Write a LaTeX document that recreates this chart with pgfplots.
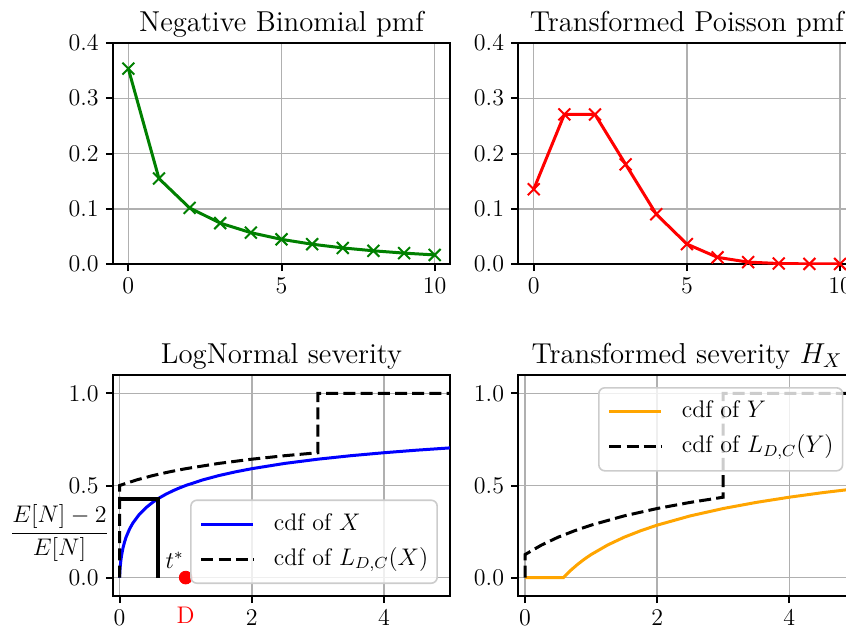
\documentclass[border=0pt]{standalone}
\usepackage{pgfplots}
\pgfplotsset{compat=1.18}
\definecolor{mplgreen}{rgb}{0,0.5,0}
\definecolor{mplorange}{rgb}{1,0.647,0}
\definecolor{gridgray}{rgb}{0.69,0.69,0.69}
\definecolor{legframe}{rgb}{0.8,0.8,0.8}
\pgfplotsset{
  myaxis/.style={
    scale only axis, width=168.5pt, height=110.5pt,
    axis line style={line width=1pt},
    grid=major, major grid style={gridgray, line width=0.75pt},
    tick align=outside, major tick length=3.5pt,
    every tick/.style={black, line width=1pt},
    xtick pos=left, ytick pos=left,
    tick label style={font=\fontsize{12}{14}\selectfont},
    xticklabel style={inner sep=0pt}, yticklabel style={inner sep=0pt},
    xticklabel shift=3.5pt, yticklabel shift=3.5pt,
    every axis title/.style={font=\fontsize{14.4}{17}\selectfont, at={(0.5,1)}, anchor=base, yshift=6pt},
    legend cell align=left,
    legend image code/.code={\draw[##1] (0pt,0pt) -- (26pt,0pt);},
    legend style={draw=legframe, line width=0.8pt, fill=white, fill opacity=0.8, draw opacity=1, text opacity=1,
      rounded corners=3pt, font=\fontsize{12}{14}\selectfont,
      inner xsep=4.5pt, inner ysep=6pt, row sep=5.5pt, column sep=9.5pt,
      nodes={inner sep=0pt, text height=9pt, text depth=3pt}},
  },
  pmfaxis/.style={myaxis, xmin=-0.5, xmax=10.5, ymin=0, ymax=0.4,
    xtick={0,5,10}, ytick={0,0.1,0.2,0.3,0.4},
    yticklabel style={/pgf/number format/.cd, fixed, fixed zerofill, precision=1}},
  cdfaxis/.style={myaxis, xmin=-0.1, xmax=5, ymin=-0.1, ymax=1.1,
    xtick={0,2,4}, ytick={0,0.5,1}, clip mode=individual,
    yticklabel style={/pgf/number format/.cd, fixed, fixed zerofill, precision=1}},
  mydash/.style={black, line width=1.5pt, dash pattern=on 6pt off 2.6pt},
}
\begin{document}
\begin{tikzpicture}
% top left
\begin{axis}[pmfaxis, at={(56.5pt,-21.5pt)}, anchor=north west, title={Negative Binomial pmf}]
\addplot[mplgreen, line width=1.5pt, mark=x, mark size=4.2pt, mark options={solid, line width=1pt}]
coordinates {(0,0.3536) (1,0.1547) (2,0.1015) (3,0.0740) (4,0.0567) (5,0.0446) (6,0.0358) (7,0.0291) (8,0.0239) (9,0.0197) (10,0.0164)};
\end{axis}
% top right
\begin{axis}[pmfaxis, at={(259.2pt,-21.5pt)}, anchor=north west, title={Transformed Poisson pmf}]
\addplot[red, line width=1.5pt, mark=x, mark size=4.2pt, mark options={solid, line width=1pt}]
coordinates {(0,0.1353) (1,0.2707) (2,0.2707) (3,0.1804) (4,0.0902) (5,0.0361) (6,0.0120) (7,0.0034) (8,0.0009) (9,0.0002) (10,0.00004)};
\end{axis}
% bottom left
\begin{axis}[cdfaxis, at={(56.5pt,-187.5pt)}, anchor=north west, title={LogNormal severity},
  legend style={at={(1,0)}, anchor=south east, xshift=-6pt, yshift=6pt},
  extra x ticks={1}, extra x tick labels={\textcolor{red}{D}},
  extra x tick style={major tick length=0pt, grid=none, xticklabel shift=5.5pt}]
\addplot[blue, line width=1.5pt] coordinates {(0,0) (0.0001,0.0011) (0.001,0.0107) (0.005,0.0387) (0.01,0.0624) (0.02,0.0961) (0.03,0.1212) (0.05,0.1590) (0.075,0.1940) (0.1,0.2214) (0.15,0.2635) (0.2,0.2958) (0.3,0.3441) (0.4,0.3800) (0.5,0.4086) (0.6,0.4324) (0.7,0.4526) (0.8,0.4703) (0.9,0.4860) (1,0.5) (1.25,0.5296) (1.5,0.5538) (1.75,0.5739) (2,0.5913) (2.5,0.6200) (3,0.6429) (3.5,0.6619) (4,0.6780) (4.5,0.6920) (5,0.7042)};
\addlegendentry{cdf of $X$}
\addplot[mydash] coordinates {(0,0) (0,0.5) (0.25,0.5296) (0.5,0.5538) (0.75,0.5739) (1,0.5913) (1.5,0.6200) (2,0.6429) (2.5,0.6619) (3,0.6780) (3,1) (5,1)};
\addlegendentry{cdf of $L_{D,C}(X)$}
\addplot[black, line width=2pt, forget plot] coordinates {(0,0.4286) (0.5827,0.4286) (0.5827,0)};
\addplot[red, only marks, mark=*, mark size=3.2pt, forget plot] coordinates {(1,0)};
\node[anchor=base west, inner sep=0pt, font=\fontsize{12}{14}\selectfont] at (axis cs:0.69,0.05) {$t^*$};
\node[anchor=center, inner sep=0pt, font=\fontsize{12}{14}\selectfont] at (axis cs:-0.91,0.241) {$\displaystyle\frac{E[N]-2}{E[N]}$};
\end{axis}
% bottom right
\begin{axis}[cdfaxis, at={(259.2pt,-187.5pt)}, anchor=north west, title={Transformed severity $H_X$},
  legend style={at={(1,1)}, anchor=north east, xshift=-6pt, yshift=-6pt}]
\addplot[mplorange, line width=1.5pt] coordinates {(0,0) (0.5827,0) (0.6,0.0067) (0.65,0.0250) (0.7,0.0421) (0.8,0.0730) (0.9,0.1005) (1,0.125) (1.25,0.1768) (1.5,0.2192) (1.75,0.2543) (2,0.2848) (2.5,0.3350) (3,0.3751) (3.5,0.4083) (4,0.4365) (4.5,0.4610) (5,0.4824)};
\addlegendentry{cdf of $Y$}
\addplot[mydash] coordinates {(0,0) (0,0.125) (0.25,0.1768) (0.5,0.2192) (0.75,0.2543) (1,0.2848) (1.5,0.3350) (2,0.3751) (2.5,0.4083) (3,0.4365) (3,1) (5,1)};
\addlegendentry{cdf of $L_{D,C}(Y)$}
\end{axis}
\pgfresetboundingbox
\path[use as bounding box] (0,0) rectangle (423pt,-313.5pt);
\end{tikzpicture}
\end{document}
